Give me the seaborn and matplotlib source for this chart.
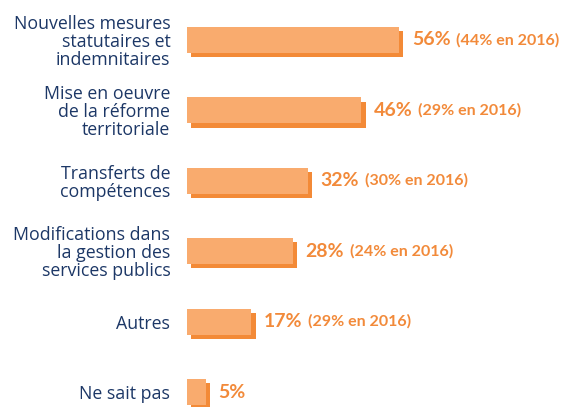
import matplotlib
matplotlib.use("Agg")
import matplotlib.pyplot as plt
import matplotlib.patheffects as pe
import seaborn as sns
import pandas as pd

categories = [
    "Nouvelles mesures\nstatutaires et\nindemnitaires",
    "Mise en oeuvre\nde la réforme\nterritoriale",
    "Transferts de\ncompétences",
    "Modifications dans\nla gestion des\nservices publics",
    "Autres",
    "Ne sait pas",
]
values_2019 = [56, 46, 32, 28, 17, 5]
value_labels = ["56%", "46%", "32%", "28%", "17%", "5%"]
labels_2016 = ["(44% en 2016)", "(29% en 2016)", "(30% en 2016)", "(24% en 2016)", "(29% en 2016)", ""]

FACE = "#F9AB6E"
SHADOW = "#F38A37"
ORANGE_TXT = "#F28A3A"
NAVY = "#1C3766"

sns.set_theme(style="white")
plt.rcParams["font.family"] = ["Open Sans", "DejaVu Sans"]

df = pd.DataFrame({"cat": categories, "val": values_2019})

fig = plt.figure(figsize=(5.66, 4.07), dpi=100)
W, H = 566, 407
ax = fig.add_axes([187 / W, 0, 379 / W, 1])

sns.barplot(data=df, x="val", y="cat", orient="h", color=FACE, saturation=1,
            width=0.37, ax=ax)

for p in ax.patches:
    p.set_linewidth(0)
    p.set_path_effects([
        pe.SimplePatchShadow(offset=(3, -3), shadow_rgbFace=SHADOW, alpha=1.0),
        pe.Normal(),
    ])

ax.set_xlim(0, 100)
ax.set_ylim(5.213, -0.568)
ax.set_xlabel("")
ax.set_ylabel("")
ax.set_xticks([])
for s in ax.spines.values():
    s.set_visible(False)

ax.tick_params(axis="y", length=0, pad=12)
for t in ax.get_yticklabels():
    t.set_color(NAVY)
    t.set_fontsize(12.8)
    t.set_ha("right")
    t.set_linespacing(1.0)
    t.set_multialignment("right")

for i, (v, lab, lab16) in enumerate(zip(values_2019, value_labels, labels_2016)):
    t1 = ax.annotate(lab, xy=(v, i), xytext=(9, 0), textcoords="offset points",
                     va="center", ha="left", color=ORANGE_TXT, fontsize=14,
                     fontweight="bold", family=["Lato", "DejaVu Sans"])
    if lab16:
        ax.annotate(lab16, xy=(1, 0.5), xycoords=t1, xytext=(4, 0),
                    textcoords="offset points", va="center", ha="left",
                    color=ORANGE_TXT, fontsize=11.5, fontweight="bold",
                    family=["Lato", "DejaVu Sans"])

fig.savefig("out.png", dpi=100)
